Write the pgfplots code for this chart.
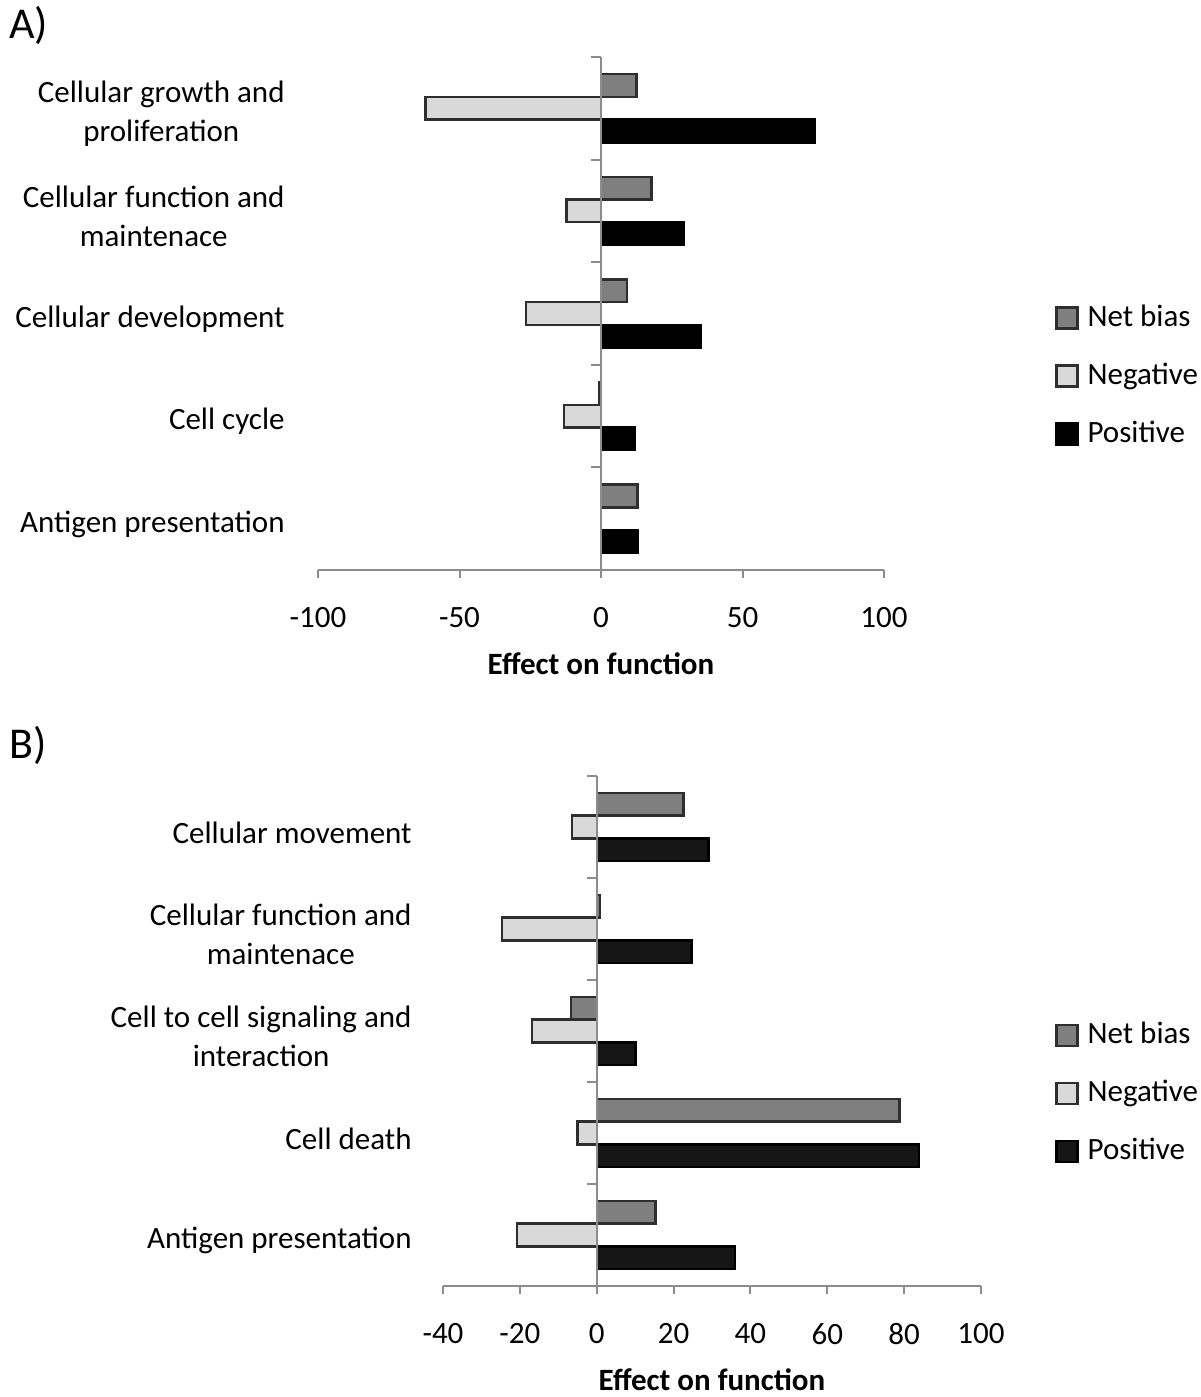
\documentclass[border=0pt]{standalone}
\usepackage{fontspec}
\setmainfont{Carlito}
\usepackage{pgfplots}
\pgfplotsset{compat=1.18}
\definecolor{netc}{HTML}{7F7F7F}
\definecolor{negc}{HTML}{D9D9D9}
\definecolor{posA}{HTML}{000000}
\definecolor{posB}{HTML}{161616}
\definecolor{axc}{HTML}{8C8C8C}
\definecolor{edgec}{HTML}{2E2E2E}
\pgfplotsset{
  panel/.style={
    scale only axis, anchor=south west,
    xbar, bar width=0.222,
    ymin=-0.5, ymax=4.5, ytick={0,1,2,3,4},
    axis x line*=bottom, axis y line*=left,
    y axis line style={draw=none},
    ytick style={draw=none},
    x axis line style={draw=axc, line width=1pt},
    xtick style={draw=axc, line width=1pt},
    tick align=outside, major tick length=4pt,
    /pgf/number format/assume math mode=true,
    tick label style={font=\fontsize{15.5}{19.5}\selectfont},
    xticklabel style={yshift=-11pt},
    yticklabel style={align=center, inner sep=0pt, yshift=-2.8pt},
    xlabel={Effect on function},
    xlabel style={font=\fontsize{15.5}{19}\selectfont\bfseries, at={(axis description cs:0.5,0)}, anchor=center, yshift=-47pt},
    legend style={draw=none, fill=none, inner sep=0pt, anchor=west, font=\fontsize{15.5}{19}\selectfont, row sep=11pt, nodes={text height=11pt, text depth=3pt, inner sep=2pt}, /tikz/every odd column/.append style={column sep=2.5pt}},
    legend cell align=left,
    legend image code/.code={\draw[##1, line width=1.1pt] (0pt,-5.25pt) rectangle (10.5pt,5.25pt);},
    clip=false,
  },
}
\begin{document}
\begin{tikzpicture}
\path[use as bounding box] (0,0) rectangle (600pt,698.5pt);
\node[anchor=west, font=\fontsize{22}{26}\selectfont] at (1pt,686pt) {A)};
\node[anchor=west, font=\fontsize{22}{26}\selectfont] at (1pt,326pt) {B)};
% Panel A
\begin{axis}[panel,
  at={(159pt,413.5pt)}, width=283pt, height=256.5pt,
  xmin=-100, xmax=100, xtick={-100,-50,0,50,100},
  yticklabels={Antigen presentation, Cell cycle, Cellular development, {Cellular function and\\maintenace}, {Cellular growth and\\proliferation}},
  yticklabel style={xshift=-12.5pt},
  legend style={at={(1.302,0.378)}},
]
\addplot[fill=netc, draw=edgec, line width=1.2pt, bar shift=0.222] coordinates {(12.9,0) (-0.7,1) (9.2,2) (17.9,3) (12.6,4)};
\addplot[fill=negc, draw=edgec, line width=1.2pt, bar shift=0] coordinates {(0,0) (-13.1,1) (-26.6,2) (-12.2,3) (-62,4)};
\addplot[fill=posA, draw=black, line width=1.2pt, bar shift=-0.222] coordinates {(12.9,0) (12,1) (35.4,2) (29.3,3) (75.4,4)};
\legend{Net bias, Negative, Positive}
\draw[axc, line width=1pt] (axis cs:0,-0.5) -- (axis cs:0,4.5);
\pgfplotsinvokeforeach{-0.5,0.5,1.5,2.5,3.5,4.5}{\draw[axc, line width=1pt] (axis cs:0,#1) -- ([xshift=-5pt]axis cs:0,#1);}
\end{axis}
% Panel B
\begin{axis}[panel,
  at={(221.5pt,55.5pt)}, width=269pt, height=255pt,
  xmin=-40, xmax=100, xtick={-40,-20,0,20,40,60,80,100},
  yticklabels={Antigen presentation, Cell death, {Cell to cell signaling and\\interaction}, {Cellular function and\\maintenace}, Cellular movement},
  yticklabel style={xshift=-11.5pt},
  legend style={at={(1.1375,0.378)}},
]
\addplot[fill=netc, draw=edgec, line width=1.2pt, bar shift=0.222] coordinates {(15.3,0) (78.8,1) (-6.7,2) (0.9,3) (22.6,4)};
\addplot[fill=negc, draw=edgec, line width=1.2pt, bar shift=0] coordinates {(-20.8,0) (-5.0,1) (-16.8,2) (-24.6,3) (-6.5,4)};
\addplot[fill=posB, draw=black, line width=1.2pt, bar shift=-0.222] coordinates {(36.0,0) (83.8,1) (10.1,2) (24.7,3) (29.1,4)};
\legend{Net bias, Negative, Positive}
\draw[axc, line width=1pt] (axis cs:0,-0.5) -- (axis cs:0,4.5);
\pgfplotsinvokeforeach{-0.5,0.5,1.5,2.5,3.5,4.5}{\draw[axc, line width=1pt] (axis cs:0,#1) -- ([xshift=-5pt]axis cs:0,#1);}
\end{axis}
\end{tikzpicture}
\end{document}
